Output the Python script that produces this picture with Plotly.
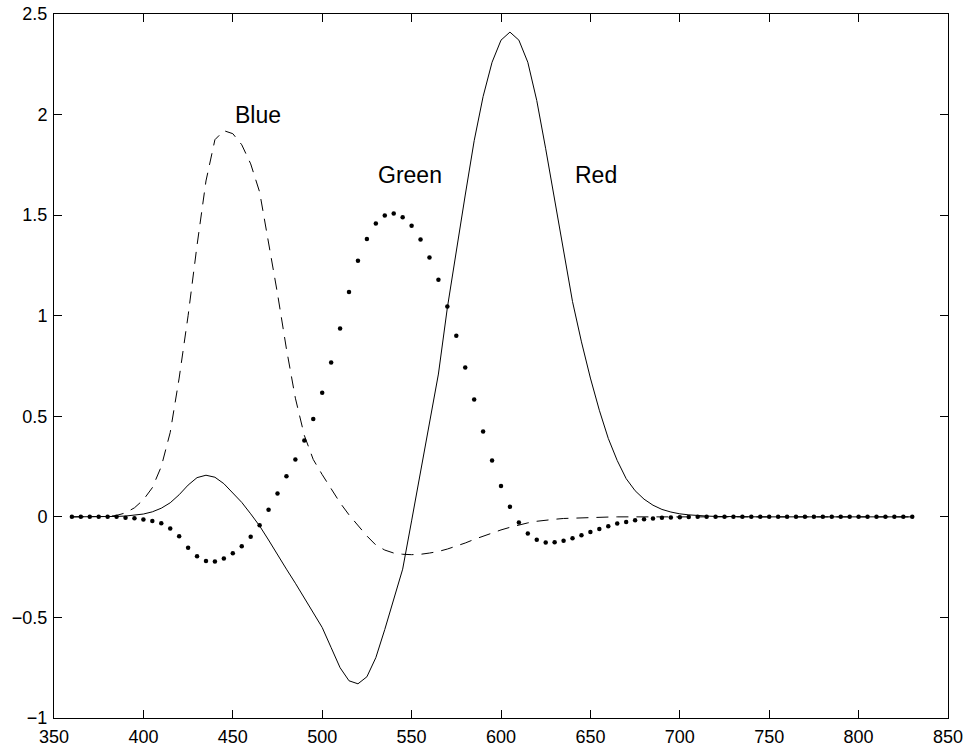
import plotly.graph_objects as go

wavelength = list(range(360, 835, 5))

red = [0.0, 0.0, 0.0, 0.0, 0.001, 0.002, 0.004, 0.008,
       0.014, 0.025, 0.043, 0.07, 0.11, 0.158, 0.195, 0.207, 0.197, 0.165, 0.12, 0.072,
       0.015, -0.045, -0.115, -0.19, -0.26, -0.33, -0.405, -0.475, -0.55, -0.65, -0.75, -0.815,
       -0.83, -0.795, -0.70, -0.56, -0.41, -0.26, -0.02, 0.22, 0.46, 0.71, 1.04, 1.33,
       1.60, 1.87, 2.09, 2.26, 2.37, 2.41, 2.37, 2.26, 2.07, 1.83, 1.57, 1.31,
       1.07, 0.87, 0.69, 0.53, 0.39, 0.28, 0.19, 0.13, 0.088, 0.058, 0.037, 0.024,
       0.015, 0.01, 0.006, 0.004, 0.002, 0.001, 0.0, 0.0, 0.0, 0.0, 0.0, 0.0,
       0.0, 0.0, 0.0, 0.0, 0.0, 0.0, 0.0, 0.0, 0.0, 0.0, 0.0, 0.0, 0.0, 0.0, 0.0]

green = [0.0, 0.0, 0.0, 0.0, 0.0, 0.0, -0.005, -0.007, -0.013, -0.02, -0.032, -0.058,
         -0.096, -0.153, -0.196, -0.219, -0.222, -0.207, -0.181, -0.146, -0.099, -0.042, 0.035, 0.116,
         0.202, 0.285, 0.379, 0.487, 0.617, 0.767, 0.937, 1.118, 1.273, 1.382, 1.459, 1.498,
         1.508, 1.490, 1.447, 1.379, 1.29, 1.179, 1.046, 0.90, 0.743, 0.583, 0.424, 0.28,
         0.154, 0.05, -0.028, -0.083, -0.114, -0.128, -0.126, -0.119, -0.106, -0.091, -0.075, -0.06,
         -0.047, -0.033, -0.025, -0.017, -0.012, -0.008, -0.005, -0.003, -0.002, -0.001, 0.0, 0.0,
         0.0, 0.0, 0.0, 0.0, 0.0, 0.0, 0.0, 0.0, 0.0, 0.0, 0.0, 0.0,
         0.0, 0.0, 0.0, 0.0, 0.0, 0.0, 0.0, 0.0, 0.0, 0.0, 0.0]

blue = [0.0, 0.0, 0.0, 0.0, 0.002, 0.007, 0.02, 0.045, 0.085, 0.145, 0.25, 0.42,
        0.69, 1.0, 1.35, 1.67, 1.875, 1.92, 1.905, 1.85, 1.755, 1.615, 1.37, 1.11,
        0.835, 0.59, 0.405, 0.285, 0.21, 0.14, 0.07, 0.01, -0.045, -0.095, -0.14, -0.165,
        -0.18, -0.186, -0.188, -0.186, -0.18, -0.172, -0.16, -0.146, -0.13, -0.112, -0.095, -0.08,
        -0.065, -0.052, -0.04, -0.03, -0.022, -0.016, -0.012, -0.008, -0.006, -0.004, -0.003, -0.002,
        -0.001, 0.0, 0.0, 0.0, 0.0, 0.0, 0.0, 0.0, 0.0, 0.0, 0.0, 0.0,
        0.0, 0.0, 0.0, 0.0, 0.0, 0.0, 0.0, 0.0, 0.0, 0.0, 0.0, 0.0,
        0.0, 0.0, 0.0, 0.0, 0.0, 0.0, 0.0, 0.0, 0.0, 0.0, 0.0]

x_ticks = [350, 400, 450, 500, 550, 600, 650, 700, 750, 800, 850]
y_ticks = [-1, -0.5, 0, 0.5, 1, 1.5, 2, 2.5]
y_tick_labels = ["\u22121", "\u22120.5", "0", "0.5", "1", "1.5", "2", "2.5"]

labels = ["Blue", "Green", "Red"]
label_x = [450, 530, 640]
label_y = [2.0, 1.7, 1.7]

FONT = "Liberation Sans, Arial, Helvetica, sans-serif"

fig = go.Figure()
fig.add_trace(go.Scatter(x=wavelength, y=blue, mode="lines",
                         line=dict(color="black", width=1, dash="12px,8px"),
                         showlegend=False))
fig.add_trace(go.Scatter(x=wavelength, y=red, mode="lines",
                         line=dict(color="black", width=1),
                         showlegend=False))
fig.add_trace(go.Scatter(x=wavelength, y=green, mode="markers",
                         marker=dict(color="black", size=4.5),
                         showlegend=False))

for t, xx, yy in zip(labels, label_x, label_y):
    fig.add_annotation(x=xx, y=yy, text=t, showarrow=False,
                       xanchor="left", yanchor="middle",
                       font=dict(family=FONT, size=23, color="black"))

axis_common = dict(showline=True, linecolor="black", linewidth=1, mirror="ticks",
                   ticks="inside", ticklen=8, tickcolor="black", tickwidth=1,
                   showgrid=False, zeroline=False, automargin=False,
                   tickfont=dict(family=FONT, size=18, color="black"))

fig.update_xaxes(range=[350, 850], tickvals=x_ticks, ticklabelstandoff=2, **axis_common)
fig.update_yaxes(range=[-1, 2.5], tickvals=y_ticks, ticktext=y_tick_labels,
                 ticklabelstandoff=2, **axis_common)

fig.update_layout(width=966, height=747,
                  margin=dict(l=54, r=18, t=14, b=29),
                  plot_bgcolor="white", paper_bgcolor="white",
                  font=dict(family=FONT, color="black"))

fig.write_html("out.html",
               config={"displayModeBar": False},
               post_script="document.body.style.margin='0';document.body.style.overflow='hidden';")
